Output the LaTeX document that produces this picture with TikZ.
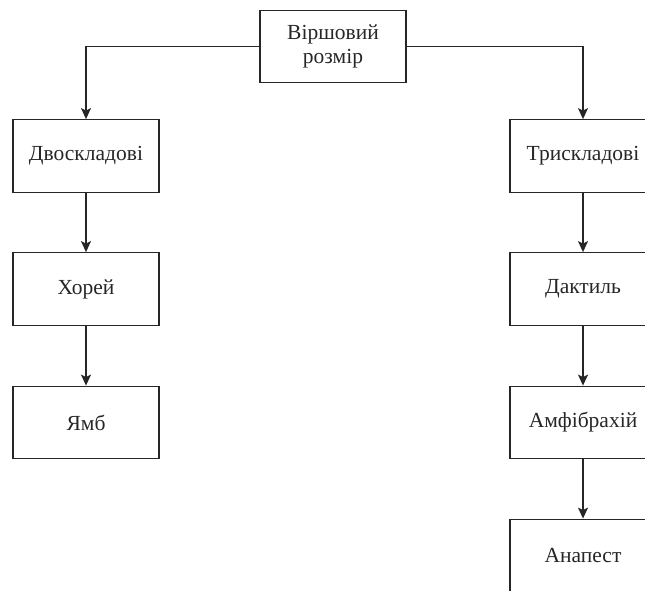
\documentclass[tikz,border=0pt]{standalone}
\usepackage{fontspec}
\setmainfont{Liberation Serif}
\usetikzlibrary{arrows.meta}
\begin{document}
\begin{tikzpicture}[x=1pt,y=-1pt,
  box/.style={draw=black!85, line width=1.3pt, minimum width=146pt, minimum height=72.5pt, inner sep=0pt, align=center, font=\fontsize{21.5}{24.5}\selectfont, text=black!85},
  conn/.style={draw=black!85, line width=1.3pt, -{Stealth[length=11pt,width=10pt,inset=2.5pt]}}]
\useasboundingbox (0,0) rectangle (645,590);
\clip (0,0) rectangle (645,590);
\node[box] (root) at (333,46.5) {Віршовий\\розмір};
\node[box] (dvo) at (86,156) {Двоскладові};
\node[box] (hor) at (86,289) {Хорей};
\node[box] (yamb) at (86,422.5) {Ямб};
\node[box] (tri) at (583,156) {Трискладові};
\node[box] (dak) at (583,289) {Дактиль};
\node[box] (amf) at (583,422.5) {Амфібрахій};
\node[box] (ana) at (583,555.5) {Анапест};
\draw[conn] (root.west) -| (dvo.north);
\draw[conn] (root.east) -| (tri.north);
\draw[conn] (dvo) -- (hor);
\draw[conn] (hor) -- (yamb);
\draw[conn] (tri) -- (dak);
\draw[conn] (dak) -- (amf);
\draw[conn] (amf) -- (ana);
\end{tikzpicture}
\end{document}
